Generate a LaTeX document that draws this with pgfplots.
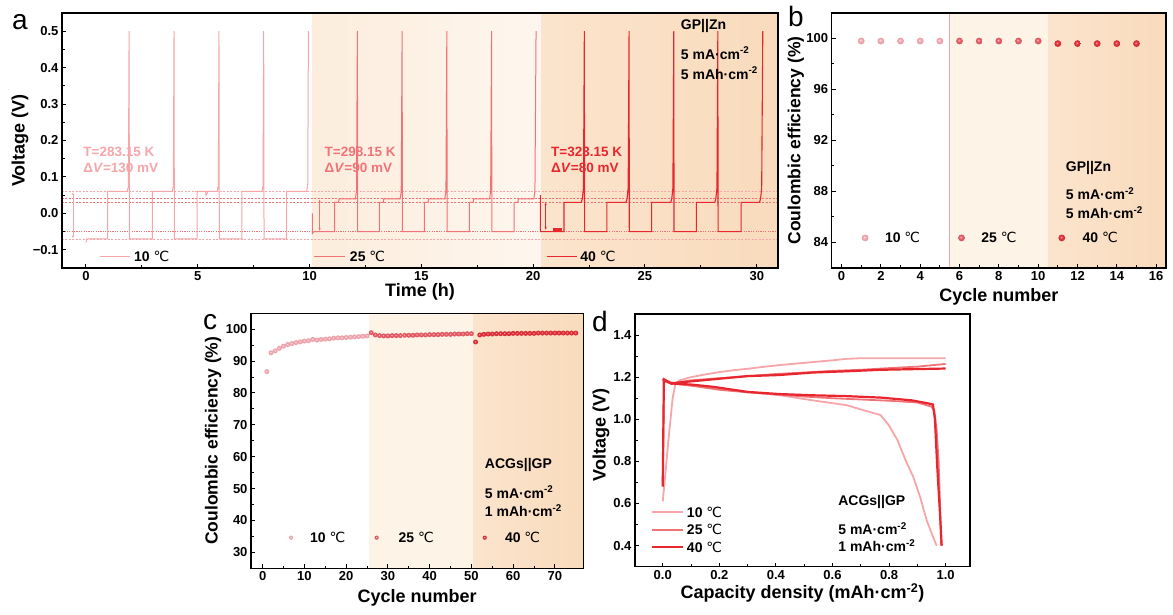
\documentclass[border=0pt]{standalone}
\usepackage{fontspec}
\setmainfont{Liberation Sans}
\newfontfamily\djv{DejaVu Sans}
\usepackage{pgfplots}
\pgfplotsset{compat=1.18}
\usetikzlibrary{arrows.meta}
\newcommand{\degC}{{\djv\mdseries\char"2103}}
\newcommand{\annfont}{\fontsize{14}{16}\selectfont\bfseries}
\newcommand{\tfont}{\fontsize{13.5}{16}\selectfont\bfseries}
\definecolor{cA}{HTML}{F6A5A8}
\definecolor{cB}{HTML}{F07378}
\definecolor{cC}{HTML}{E8262E}
\definecolor{mA}{HTML}{F7AAB3}
\definecolor{mB}{HTML}{EE5F69}
\definecolor{mC}{HTML}{E8323C}
\definecolor{bgB1}{HTML}{FCEDDD}
\definecolor{bgB2}{HTML}{FEF6EE}
\definecolor{bgC1}{HTML}{FBE4CD}
\definecolor{bgC2}{HTML}{F9DBBC}
\pgfdeclareradialshading{shA}{\pgfpoint{-7bp}{7bp}}{color(0bp)=(mA!25!white); color(3bp)=(mA!50!white); color(9bp)=(mA); color(20bp)=(mA!95!black); color(25bp)=(mA!88!black); color(50bp)=(mA!88!black)}
\pgfdeclareradialshading{shB}{\pgfpoint{-7bp}{7bp}}{color(0bp)=(mB!30!white); color(3bp)=(mB!55!white); color(9bp)=(mB); color(20bp)=(mB!93!black); color(25bp)=(mB!85!black); color(50bp)=(mB!85!black)}
\pgfdeclareradialshading{shC}{\pgfpoint{-7bp}{7bp}}{color(0bp)=(mC!35!white); color(3bp)=(mC!60!white); color(9bp)=(mC); color(20bp)=(mC!92!black); color(25bp)=(mC!84!black); color(50bp)=(mC!84!black)}
\pgfdeclareplotmark{ballA}{\pgfpathcircle{\pgfpointorigin}{\pgfplotmarksize}\pgfshadepath{shA}{0}\pgfusepath{}}
\pgfdeclareplotmark{ballB}{\pgfpathcircle{\pgfpointorigin}{\pgfplotmarksize}\pgfshadepath{shB}{0}\pgfusepath{}}
\pgfdeclareplotmark{ballC}{\pgfpathcircle{\pgfpointorigin}{\pgfplotmarksize}\pgfshadepath{shC}{0}\pgfusepath{}}
\pgfplotsset{
  myax/.style={
    scale only axis, axis on top, anchor=south west,
    axis line style={line width=1.5pt},
    tick style={black, line width=1pt},
    major tick length=4pt, minor tick length=2.5pt,
    tick align=inside, tick pos=left,
    tick label style={font=\fontsize{13}{15}\selectfont\bfseries},
    label style={font=\fontsize{18}{20}\selectfont\bfseries},
    /pgf/number format/assume math mode=true,
    minor x tick num=1, minor y tick num=1,
  }
}
\begin{document}
\begin{tikzpicture}
\useasboundingbox (0,0) rectangle (1173pt,615pt);
% ---------------- panel a ----------------
\begin{axis}[myax, at={(62pt,347pt)}, width=716pt, height=255pt,
  xmin=-1.07, xmax=30.95, ymin=-0.15, ymax=0.55,
  xtick={0,5,...,30},
  ytick={-0.1,0,0.1,0.2,0.3,0.4,0.5},
  yticklabels={−0.1,0.0,0.1,0.2,0.3,0.4,0.5},
  xlabel={Time (h)}, ylabel={Voltage (V)},
  xlabel style={at={(axis description cs:0.5,-0.092)},anchor=center},
  ylabel style={at={(axis description cs:-0.0587,0.5)},anchor=center},
]
\fill[left color=bgB1, right color=bgB2] (axis cs:10.1,-0.15) rectangle (axis cs:20.36,0.55);
\fill[left color=bgC1, right color=bgC2] (axis cs:20.36,-0.15) rectangle (axis cs:30.95,0.55);
\addplot[cA, line width=0.6pt, dash pattern=on 2pt off 1.5pt] coordinates {(-1.07,0.06)(30.95,0.06)};
\addplot[cB, line width=0.6pt, dash pattern=on 2pt off 1.5pt] coordinates {(-1.07,0.04)(30.95,0.04)};
\addplot[cB, line width=0.6pt, dash pattern=on 2pt off 1.5pt] coordinates {(-1.07,0.03)(30.95,0.03)};
\addplot[cB, line width=1.5pt, dash pattern=on 1.2pt off 1.2pt] coordinates {(-1.07,-0.05)(30.95,-0.05)};
\addplot[cA, line width=0.6pt, dash pattern=on 2pt off 1.5pt] coordinates {(-1.07,-0.07)(30.95,-0.07)};
% 10 C
\addplot[cA, line width=1pt] coordinates {
(0,-0.08)(0.05,-0.07)(0.97,-0.07)(0.97,0.06)(1.85,0.06)(1.9,0.075)(1.93,0.5)(1.945,-0.07)
(2.97,-0.07)(2.97,0.06)(3.86,0.06)(3.91,0.075)(3.94,0.5)(3.955,-0.07)
(4.97,-0.07)(4.97,0.06)(5.35,0.06)(5.37,0.05)(5.42,0.055)(5.45,0.06)(5.87,0.06)(5.92,0.075)(5.95,0.5)(5.965,-0.07)
(6.97,-0.07)(6.97,0.06)(7.87,0.06)(7.92,0.075)(7.95,0.5)(7.965,-0.07)
(8.97,-0.07)(8.97,0.06)(9.87,0.06)(9.92,0.08)(9.95,0.5)};
% 25 C
\addplot[cB, line width=1pt] coordinates {
(10.13,0.0)(10.13,-0.055)(10.2,-0.05)(11.12,-0.05)(11.12,0.03)(11.3,0.03)(11.32,0.04)(12.05,0.04)(12.1,0.06)(12.14,0.5)(12.155,-0.05)
(13.12,-0.05)(13.12,0.03)(13.3,0.03)(13.32,0.04)(14.05,0.04)(14.1,0.06)(14.14,0.5)(14.155,-0.05)
(15.13,-0.05)(15.13,0.03)(15.3,0.03)(15.32,0.04)(16.05,0.04)(16.1,0.06)(16.14,0.5)(16.155,-0.05)
(17.15,-0.05)(17.15,0.03)(17.32,0.03)(17.34,0.04)(18.05,0.04)(18.1,0.06)(18.14,0.5)(18.155,-0.05)
(19.15,-0.05)(19.15,0.03)(19.32,0.03)(19.34,0.04)(20.03,0.04)(20.08,0.06)(20.13,0.5)};
% 40 C
\addplot[cC, line width=1.1pt] coordinates {
(20.32,0.05)(20.32,-0.05)(21.38,-0.05)(21.38,0.03)(22.15,0.03)(22.2,0.04)(22.25,0.07)(22.29,0.5)(22.3,-0.05)
(23.3,-0.05)(23.3,0.03)(24.15,0.03)(24.2,0.04)(24.25,0.07)(24.29,0.5)(24.3,-0.05)
(25.3,-0.05)(25.3,0.03)(26.15,0.03)(26.2,0.04)(26.25,0.07)(26.29,0.5)(26.3,-0.05)
(27.3,-0.05)(27.3,0.03)(28.12,0.03)(28.17,0.04)(28.22,0.07)(28.26,0.5)(28.27,-0.05)
(29.3,-0.05)(29.3,0.03)(30.12,0.03)(30.17,0.04)(30.22,0.07)(30.27,0.5)};
\addplot[cC, line width=3pt] coordinates {(20.9,-0.044)(21.28,-0.044)};
% delta V arrows
\draw[cA, line width=0.6pt, {Stealth[length=3pt]}-{Stealth[length=3pt]}] (axis cs:-0.58,0.058) -- (axis cs:-0.58,-0.068);
\draw[cB, line width=0.6pt, {Stealth[length=3pt]}-{Stealth[length=3pt]}] (axis cs:10.45,0.038) -- (axis cs:10.45,-0.048);
\draw[cC, line width=0.6pt, {Stealth[length=3pt]}-{Stealth[length=3pt]}] (axis cs:20.56,0.03) -- (axis cs:20.56,-0.045);
% annotations
\node[anchor=west, text=cA, font=\tfont, inner sep=0] at (axis cs:-0.12,0.17) {T=283.15 K};
\node[anchor=west, text=cA, font=\tfont, inner sep=0] at (axis cs:-0.12,0.124) {Δ\textit{V}=130 mV};
\node[anchor=west, text=cB, font=\tfont, inner sep=0] at (axis cs:10.67,0.17) {T=298.15 K};
\node[anchor=west, text=cB, font=\tfont, inner sep=0] at (axis cs:10.67,0.124) {Δ\textit{V}=90 mV};
\node[anchor=west, text=cC, font=\tfont, inner sep=0] at (axis cs:20.8,0.17) {T=323.15 K};
\node[anchor=west, text=cC, font=\tfont, inner sep=0] at (axis cs:20.8,0.126) {Δ\textit{V}=80 mV};
\node[anchor=west, font=\annfont, inner sep=0] at (axis cs:26.6,0.513) {GP||Zn};
\node[anchor=west, font=\annfont, inner sep=0] at (axis cs:26.6,0.44) {5 mA·cm\textsuperscript{-2}};
\node[anchor=west, font=\annfont, inner sep=0] at (axis cs:26.6,0.385) {5 mAh·cm\textsuperscript{-2}};
% legends
\addplot[cA, line width=1pt] coordinates {(0.63,-0.118)(1.96,-0.118)};
\node[anchor=west, font=\annfont, inner sep=0] at (axis cs:2.15,-0.118) {10 \degC};
\addplot[cB, line width=1pt] coordinates {(10.2,-0.118)(11.6,-0.118)};
\node[anchor=west, font=\annfont, inner sep=0] at (axis cs:11.8,-0.118) {25 \degC};
\addplot[cC, line width=1.1pt] coordinates {(20.6,-0.118)(21.95,-0.118)};
\node[anchor=west, font=\annfont, inner sep=0] at (axis cs:22.1,-0.118) {40 \degC};
\end{axis}
% ---------------- panel b ----------------
\begin{axis}[myax, at={(831.7pt,347pt)}, width=334.3pt, height=255pt,
  xmin=-0.5, xmax=16.5, ymin=82, ymax=102,
  xtick={0,2,...,16}, ytick={84,88,92,96,100},
  xlabel={Cycle number}, ylabel={Coulombic efficiency (\%)},
  xlabel style={at={(axis description cs:0.5,-0.114)},anchor=center},
  ylabel style={at={(axis description cs:-0.107,0.5)},anchor=center, font=\fontsize{17.5}{20}\selectfont\bfseries},
]
\fill[bgB2!60!bgB1] (axis cs:5.5,82) rectangle (axis cs:10.5,102);
\fill[left color=bgC1, right color=bgC2] (axis cs:10.5,82) rectangle (axis cs:16.5,102);
\addplot[cA, line width=0.6pt] coordinates {(5.5,82)(5.5,102)};
\addplot[only marks, mark=ballA, mark size=3.4pt] coordinates {(1,99.8)(2,99.8)(3,99.8)(4,99.8)(5,99.8)};
\addplot[only marks, mark=ballB, mark size=3.4pt] coordinates {(6,99.8)(7,99.8)(8,99.8)(9,99.8)(10,99.8)};
\addplot[only marks, mark=ballC, mark size=3.4pt] coordinates {(11,99.6)(12,99.6)(13,99.6)(14,99.6)(15,99.6)};
\addplot[only marks, mark=ballA, mark size=3.4pt] coordinates {(1.2,84.36)};
\addplot[only marks, mark=ballB, mark size=3.4pt] coordinates {(6.1,84.36)};
\addplot[only marks, mark=ballC, mark size=3.4pt] coordinates {(11.2,84.36)};
\node[anchor=west, font=\annfont, inner sep=0] at (axis cs:2.2,84.36) {10 \degC};
\node[anchor=west, font=\annfont, inner sep=0] at (axis cs:7.1,84.36) {25 \degC};
\node[anchor=west, font=\annfont, inner sep=0] at (axis cs:12.25,84.36) {40 \degC};
\node[anchor=west, font=\annfont, inner sep=0] at (axis cs:11.4,89.88) {GP||Zn};
\node[anchor=west, font=\annfont, inner sep=0] at (axis cs:11.4,87.86) {5 mA·cm\textsuperscript{-2}};
\node[anchor=west, font=\annfont, inner sep=0] at (axis cs:11.4,86.36) {5 mAh·cm\textsuperscript{-2}};
\end{axis}
% ---------------- panel c ----------------
\begin{axis}[myax, at={(251pt,46.7pt)}, width=332.3pt, height=255pt,
  xmin=-2.8, xmax=76.8, ymin=25, ymax=105,
  xtick={0,10,...,70}, ytick={30,40,...,100},
  xlabel={Cycle number}, ylabel={Coulombic efficiency (\%)},
  xlabel style={at={(axis description cs:0.5,-0.116)},anchor=center},
  ylabel style={at={(axis description cs:-0.114,0.5)},anchor=center, font=\fontsize{17.5}{20}\selectfont\bfseries},
]
\fill[bgB2!60!bgB1] (axis cs:25.5,25) rectangle (axis cs:50.5,105);
\fill[left color=bgC1, right color=bgC2] (axis cs:50.5,25) rectangle (axis cs:76.8,105);
\addplot[only marks, mark=ballA, mark size=2.5pt] coordinates {
(1,86.7)(2,92.6)(3,93.2)(4,94.0)(5,94.7)(6,95.2)(7,95.5)(8,95.8)(9,96.0)(10,96.3)(11,96.4)(12,96.8)(13,96.6)
(14,96.8)(15,96.9)(16,97.0)(17,97.2)(18,97.3)(19,97.3)(20,97.4)(21,97.5)(22,97.6)(23,97.7)(24,97.8)(25,97.9)};
\addplot[only marks, mark=ballB, mark size=2.5pt] coordinates {
(26,98.9)(27,98.2)(28,98.0)(29,97.9)(30,97.9)(31,98.0)(32,98.0)(33,98.0)(34,98.1)(35,98.1)(36,98.1)(37,98.2)(38,98.2)
(39,98.2)(40,98.3)(41,98.3)(42,98.3)(43,98.4)(44,98.4)(45,98.4)(46,98.5)(47,98.5)(48,98.5)(49,98.6)(50,98.6)};
\addplot[only marks, mark=ballC, mark size=2.5pt] coordinates {
(51,96.0)(52,98.2)(53,98.4)(54,98.5)(55,98.5)(56,98.6)(57,98.6)(58,98.6)(59,98.6)(60,98.7)(61,98.7)(62,98.7)(63,98.7)
(64,98.7)(65,98.7)(66,98.8)(67,98.8)(68,98.8)(69,98.8)(70,98.8)(71,98.8)(72,98.8)(73,98.8)(74,98.8)(75,98.8)};
\addplot[only marks, mark=ballA, mark size=2.1pt] coordinates {(6.8,34.6)};
\addplot[only marks, mark=ballB, mark size=2.1pt] coordinates {(27.3,34.6)};
\addplot[only marks, mark=ballC, mark size=2.1pt] coordinates {(53.2,34.6)};
\node[anchor=west, font=\annfont, inner sep=0] at (axis cs:11.3,34.6) {10 \degC};
\node[anchor=west, font=\annfont, inner sep=0] at (axis cs:32.5,34.6) {25 \degC};
\node[anchor=west, font=\annfont, inner sep=0] at (axis cs:58,34.6) {40 \degC};
\node[anchor=west, font=\annfont, inner sep=0] at (axis cs:53.2,57.5) {ACGs||GP};
\node[anchor=west, font=\annfont, inner sep=0] at (axis cs:53.2,48.9) {5 mA·cm\textsuperscript{-2}};
\node[anchor=west, font=\annfont, inner sep=0] at (axis cs:53.2,43.1) {1 mAh·cm\textsuperscript{-2}};
\end{axis}
% ---------------- panel d ----------------
\begin{axis}[myax, at={(635pt,48.3pt)}, width=335pt, height=252.7pt,
  xmin=-0.098, xmax=1.086, ymin=0.3, ymax=1.5,
  xtick={0,0.2,...,1.0}, ytick={0.4,0.6,...,1.4},
  /pgf/number format/.cd, fixed, zerofill, precision=1, /pgfplots/.cd,
  xlabel={Capacity density (mAh·cm\textsuperscript{-2})}, ylabel={Voltage (V)},
  xlabel style={at={(axis description cs:0.5,-0.104)},anchor=center},
  ylabel style={at={(axis description cs:-0.1015,0.521)},anchor=center},
]
% 10 C
\addplot[cA, line width=1.8pt] coordinates {(0,0.61)(0.01,0.75)(0.02,0.9)(0.035,1.1)(0.045,1.17)(0.06,1.185)(0.1,1.2)(0.15,1.213)(0.2,1.224)(0.25,1.233)(0.3,1.24)(0.35,1.248)(0.41,1.257)(0.45,1.262)(0.5,1.268)(0.55,1.274)(0.6,1.28)(0.65,1.287)(0.7,1.29)(0.8,1.29)(0.9,1.29)(1.0,1.29)};
\addplot[cA, line width=1.8pt] coordinates {(0,1.19)(0.02,1.18)(0.05,1.17)(0.1,1.16)(0.2,1.145)(0.3,1.13)(0.415,1.114)(0.53,1.09)(0.65,1.067)(0.71,1.043)(0.77,1.02)(0.8,0.97)(0.83,0.9)(0.86,0.8)(0.886,0.725)(0.91,0.63)(0.933,0.52)(0.95,0.46)(0.968,0.4)};
% 25 C
\addplot[cB, line width=1.8pt] coordinates {(0,0.7)(0.005,1.18)(0.03,1.17)(0.1,1.185)(0.2,1.195)(0.3,1.205)(0.4,1.215)(0.5,1.222)(0.6,1.23)(0.7,1.235)(0.8,1.243)(0.9,1.25)(1.0,1.263)};
\addplot[cB, line width=1.8pt] coordinates {(0,1.19)(0.03,1.17)(0.1,1.16)(0.2,1.14)(0.3,1.128)(0.4,1.118)(0.5,1.108)(0.6,1.1)(0.7,1.094)(0.8,1.088)(0.9,1.08)(0.95,1.06)(0.96,1.04)(0.968,0.95)(0.975,0.8)(0.98,0.6)(0.984,0.4)};
% 40 C
\addplot[cC, line width=2.2pt] coordinates {(0,0.68)(0.004,1.19)(0.03,1.17)(0.06,1.175)(0.1,1.18)(0.18,1.19)(0.3,1.205)(0.41,1.21)(0.53,1.222)(0.65,1.228)(0.77,1.235)(0.88,1.238)(1.0,1.241)};
\addplot[cC, line width=2.2pt] coordinates {(0,1.19)(0.03,1.17)(0.1,1.165)(0.18,1.154)(0.3,1.13)(0.41,1.12)(0.53,1.114)(0.65,1.11)(0.77,1.103)(0.88,1.09)(0.94,1.075)(0.955,1.07)(0.962,1.0)(0.97,0.78)(0.98,0.55)(0.986,0.4)};
% legend
\addplot[cA, line width=1.8pt] coordinates {(-0.039,0.559)(0.073,0.559)};
\addplot[cB, line width=1.8pt] coordinates {(-0.039,0.475)(0.073,0.475)};
\addplot[cC, line width=2.2pt] coordinates {(-0.039,0.392)(0.073,0.392)};
\node[anchor=west, font=\annfont, inner sep=0] at (axis cs:0.085,0.559) {10 \degC};
\node[anchor=west, font=\annfont, inner sep=0] at (axis cs:0.085,0.475) {25 \degC};
\node[anchor=west, font=\annfont, inner sep=0] at (axis cs:0.085,0.392) {40 \degC};
\node[anchor=west, font=\annfont, inner sep=0] at (axis cs:0.62,0.606) {ACGs||GP};
\node[anchor=west, font=\annfont, inner sep=0] at (axis cs:0.62,0.479) {5 mA·cm\textsuperscript{-2}};
\node[anchor=west, font=\annfont, inner sep=0] at (axis cs:0.62,0.4) {1 mAh·cm\textsuperscript{-2}};
\end{axis}
% panel letters
\node[font=\fontsize{28}{30}\selectfont, inner sep=0] at (20pt,593pt) {a};
\node[font=\fontsize{28}{30}\selectfont, inner sep=0] at (796pt,598pt) {b};
\node[font=\fontsize{28}{30}\selectfont, inner sep=0] at (210pt,292.5pt) {c};
\node[font=\fontsize{28}{30}\selectfont, inner sep=0] at (600pt,293.5pt) {d};
\end{tikzpicture}
\end{document}
